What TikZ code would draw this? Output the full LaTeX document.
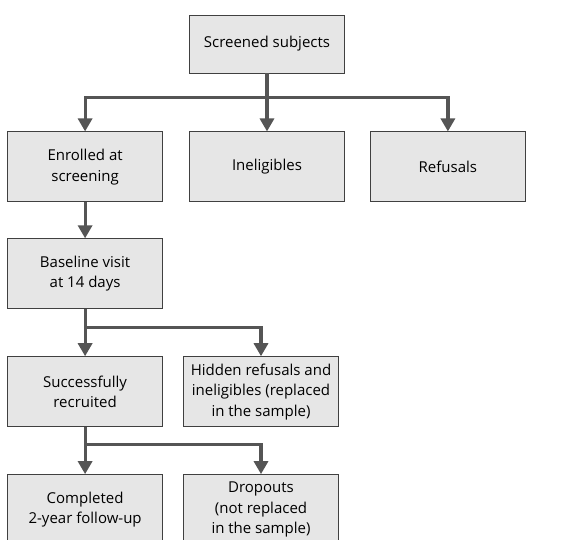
\documentclass[tikz,border=0pt]{standalone}
\usepackage{fontspec}
\setmainfont{Open Sans}
\usetikzlibrary{arrows.meta, positioning}
\definecolor{boxfill}{HTML}{E6E6E6}
\definecolor{boxline}{HTML}{404040}
\definecolor{arrgray}{HTML}{555555}

\begin{document}
\begin{tikzpicture}[
    x=1pt, y=1pt,
    box/.style={draw=boxline, fill=boxfill, line width=0.9pt, minimum width=155pt, minimum height=70pt, align=center, inner sep=2pt, font=\fontsize{15}{20.5}\selectfont},
    arr/.style={-{Triangle[length=13pt, width=14pt]}, line width=3.2pt, draw=arrgray}
]
\useasboundingbox (0,0) rectangle (566,-540);
\clip (0,0) rectangle (566,-540);

\node[box, minimum height=58pt] (screened) at (267,-44) {Screened subjects};
\node[box, below=58pt of screened] (inelig) {Ineligibles};
\node[box, left=26pt of inelig] (enrolled) {Enrolled at\\screening};
\node[box, right=25pt of inelig] (refusals) {Refusals};
\node[box, below=36pt of enrolled] (baseline) {Baseline visit\\at 14 days};
\node[box, below=47pt of baseline] (recruited) {Successfully\\recruited};
\node[box, right=20pt of recruited] (hidden) {Hidden refusals and\\ineligibles (replaced\\in the sample)};
\node[box, below=47pt of recruited] (completed) {Completed\\2-year follow-up};
\node[box, right=20pt of completed] (dropouts) {Dropouts\\(not replaced\\in the sample)};

\draw[arr] (screened.south) -- (inelig.north);
\draw[arr] (screened.south) -- ++(0,-24) -| (enrolled.north);
\draw[arr] (screened.south) -- ++(0,-24) -| (refusals.north);
\draw[arr] (enrolled) -- (baseline);
\draw[arr] (baseline.south) -- (recruited.north);
\draw[arr] (baseline.south) -- ++(0,-18) -| (hidden.north);
\draw[arr] (recruited.south) -- (completed.north);
\draw[arr] (recruited.south) -- ++(0,-17) -| (dropouts.north);

\end{tikzpicture}
\end{document}
